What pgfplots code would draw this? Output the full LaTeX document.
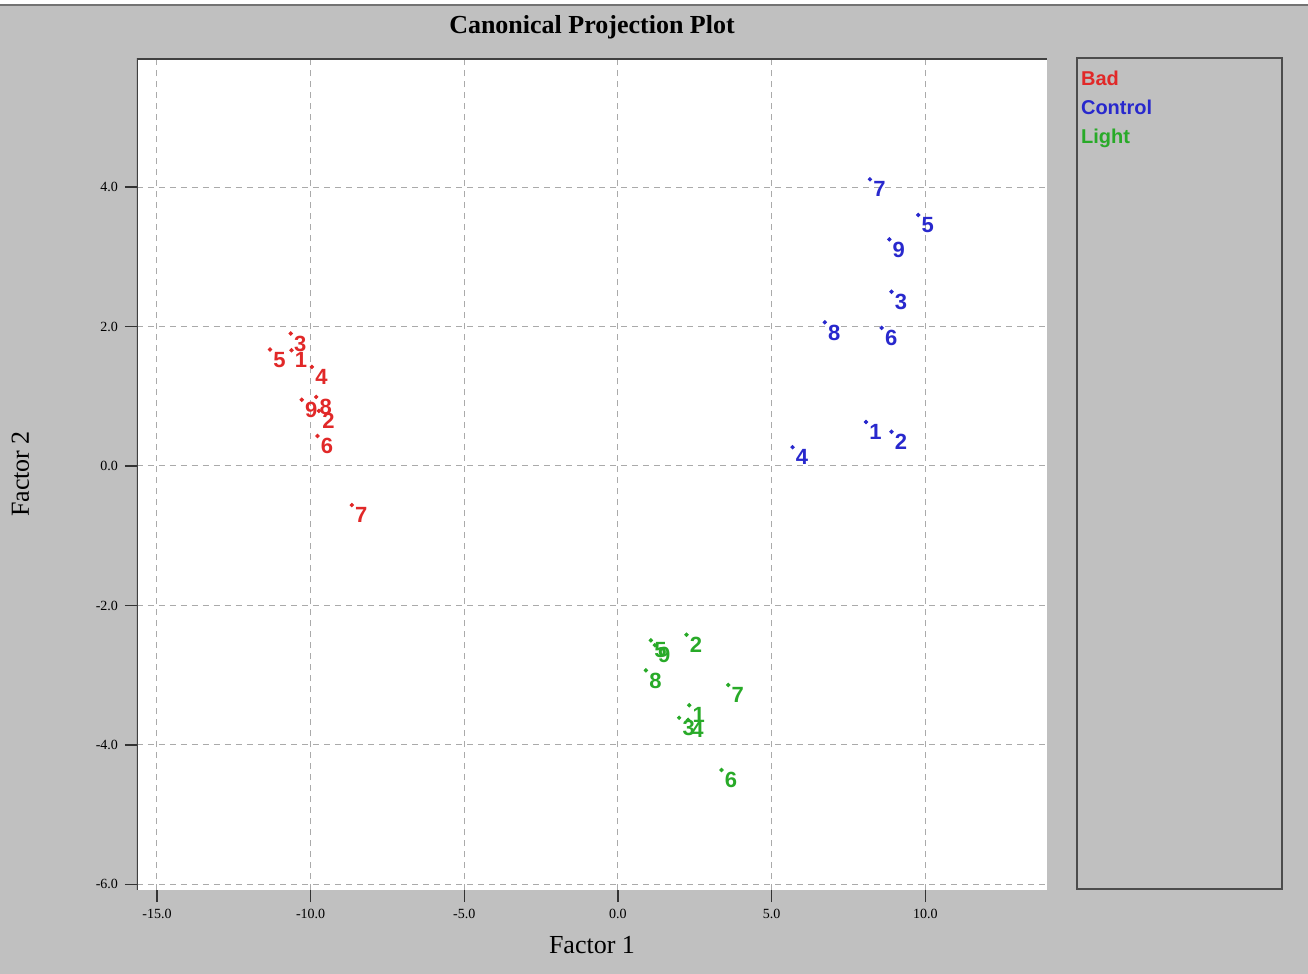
\documentclass[border=0pt]{standalone}
\usepackage{pgfplots}
\usepackage{pgfplotstable}
\pgfplotsset{compat=1.18}
\usepackage{fontspec}
\setmainfont{Liberation Serif}
\newfontfamily\lsans{Liberation Sans}
\definecolor{bgray}{RGB}{192,192,192}
\definecolor{cbad}{RGB}{225,40,40}
\definecolor{cctrl}{RGB}{40,40,205}
\definecolor{clight}{RGB}{40,170,40}
\definecolor{gridc}{RGB}{170,170,170}

\pgfplotstableread{
x y l
-10.65 1.90 3
-11.32 1.67 5
-10.62 1.66 1
-9.96 1.42 4
-10.29 0.95 9
-9.82 0.99 8
-9.73 0.79 2
-9.78 0.43 6
-8.66 -0.56 7
}\bad

\pgfplotstableread{
x y l
8.20 4.11 7
9.77 3.60 5
8.83 3.25 9
8.90 2.50 3
6.73 2.06 8
8.58 1.98 6
8.07 0.63 1
8.90 0.49 2
5.68 0.27 4
}\ctrl

\pgfplotstableread{
x y l
1.07 -2.50 5
1.20 -2.57 9
2.23 -2.42 2
0.91 -2.93 8
3.59 -3.14 7
2.32 -3.43 1
1.99 -3.61 3
2.28 -3.64 4
3.37 -4.36 6
}\light

\begin{document}
\begin{tikzpicture}
\fill[bgray] (0,0) rectangle (654pt,-487pt);
\fill[white] (0,0) rectangle (654pt,-2.5pt);
\draw[black!55, line width=0.8pt] (0,-2.5pt) -- (654pt,-2.5pt);
\draw[black!70, line width=1pt] (538.5pt,-29pt) rectangle (641pt,-444.5pt);
\begin{axis}[
  at={(68.5pt,-445pt)}, anchor=south west,
  scale only axis, width=455pt, height=416pt,
  xmin=-15.65, xmax=13.96, ymin=-6.08, ymax=5.85,
  axis background/.style={fill=white},
  axis line style={draw=none},
  xtick={-15,-10,...,10}, ytick={-6,-4,...,4},
  grid=major,
  major grid style={gridc, dash pattern=on 3pt off 2.5pt, line width=0.5pt},
  tick align=outside, tick pos=left,
  major tick length=6pt,
  tick style={black!80, line width=0.6pt},
  ticklabel style={font=\fontsize{7}{8}\selectfont},
  /pgf/number format/fixed, /pgf/number format/zerofill, /pgf/number format/precision=1,
  /pgf/number format/assume math mode=true,
  title={Canonical Projection Plot},
  title style={font=\bfseries\fontsize{13}{15}\selectfont, at={(axis description cs:0.5,1)}, anchor=base, yshift=6.5pt},
  xlabel={Factor 1},
  xlabel style={font=\fontsize{13}{15}\selectfont, at={(axis description cs:0.5,0)}, anchor=base, yshift=-31.5pt},
  ylabel={Factor 2},
  ylabel style={font=\fontsize{13}{15}\selectfont, at={(axis description cs:0,0.5)}, anchor=base, yshift=54pt},
  legend image code/.code={},
  legend cell align=left,
  legend style={draw=none, fill=none, at={(axis description cs:1.037,0.986)}, anchor=north west,
    font=\lsans\bfseries\fontsize{10}{12}\selectfont, row sep=5pt, column sep=0pt, inner sep=0pt,
    nodes={inner sep=0pt, text height=7.5pt, text depth=2pt}},
  only marks, mark=*, mark size=0.9pt,
  point meta=explicit symbolic,
  nodes near coords,
  nodes near coords style={anchor=north west, font=\lsans\bfseries\fontsize{11}{11}\selectfont, inner sep=0pt, xshift=1.5pt, yshift=-1pt},
]
\addplot[cbad, mark=*, nodes near coords style={text=cbad}] table[x=x, y=y, meta=l] {\bad};
\addlegendentry{\textcolor{cbad}{Bad}}
\addplot[cctrl, mark=*, nodes near coords style={text=cctrl}] table[x=x, y=y, meta=l] {\ctrl};
\addlegendentry{\textcolor{cctrl}{Control}}
\addplot[clight, mark=*, nodes near coords style={text=clight}] table[x=x, y=y, meta=l] {\light};
\addlegendentry{\textcolor{clight}{Light}}
\draw[black!75, line width=1.5pt] (rel axis cs:0,0) -- (rel axis cs:0,1) -- (rel axis cs:1,1);
\end{axis}
\pgfresetboundingbox
\useasboundingbox (0,0) rectangle (654pt,-487pt);
\end{tikzpicture}
\end{document}
